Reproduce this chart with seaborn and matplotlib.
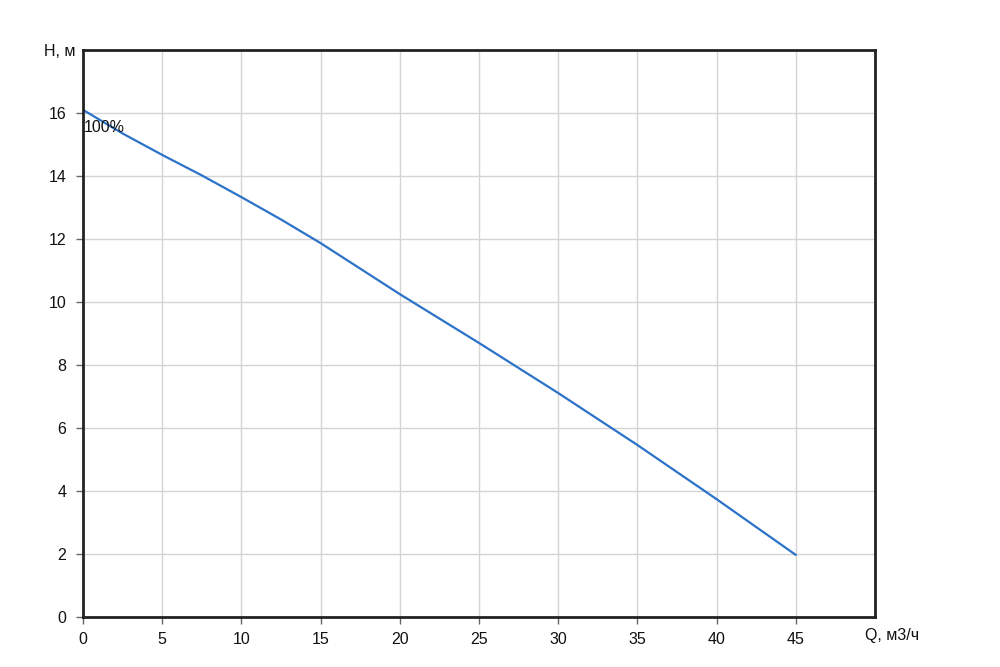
import matplotlib
matplotlib.use('Agg')
import matplotlib.pyplot as plt
import seaborn as sns
import pandas as pd

# pump curve
flow = [0, 2.5, 5, 7.5, 10, 12.5, 15, 20, 25, 30, 35, 40, 45]
head = [16.1, 15.35, 14.67, 14.02, 13.33, 12.62, 11.87, 10.25, 8.7, 7.11, 5.46, 3.74, 1.97]
x_ticks = [0, 5, 10, 15, 20, 25, 30, 35, 40, 45]
y_ticks = [0, 2, 4, 6, 8, 10, 12, 14, 16]

sns.set_style('white')
plt.rcParams['font.family'] = ['Liberation Sans', 'DejaVu Sans']

df = pd.DataFrame({'Q': flow, 'H': head})

fig = plt.figure(figsize=(10, 6.67), dpi=100)
ax = fig.add_axes([0.083, 0.075, 0.792, 0.85])

sns.lineplot(data=df, x='Q', y='H', ax=ax, color='#2b72c9', linewidth=1.6)

ax.set_xlim(0, 50)
ax.set_ylim(0, 18)
ax.set_xticks(x_ticks)
ax.set_yticks(y_ticks)
ax.grid(True, color='#d4d4d4', linewidth=1)
ax.set_axisbelow(True)
for s in ax.spines.values():
    s.set_color('#222222')
    s.set_linewidth(2)
ax.tick_params(axis='both', bottom=True, left=True, direction='out', length=5, width=1,
               color='#666666', labelsize=11.5, labelcolor='#111111')
ax.tick_params(axis='x', pad=6)
ax.tick_params(axis='y', pad=7)
ax.set_xlabel('')
ax.set_ylabel('')

ax.text(-0.45, 17.95, 'H, м', ha='right', va='center', fontsize=11.5, color='#111111')
ax.text(51.1, -0.6, 'Q, м3/ч', ha='center', va='center', fontsize=11.5, color='#111111')
ax.text(0.05, 15.55, '100%', ha='left', va='center', fontsize=11.5, color='#111111')

plt.savefig('out.png', dpi=100)
